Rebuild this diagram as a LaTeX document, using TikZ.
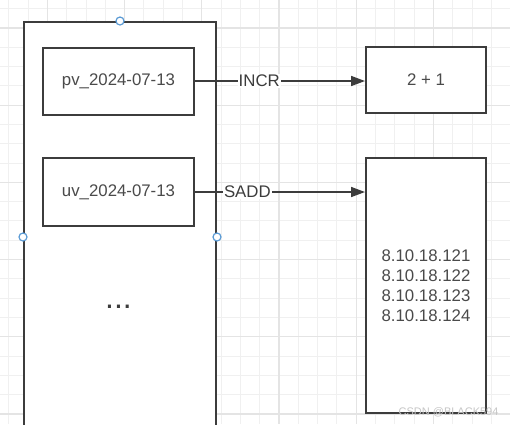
\documentclass[tikz,border=0pt]{standalone}
\usepackage{fontspec}
\setmainfont{Liberation Sans}
\usetikzlibrary{arrows.meta}
\definecolor{stroke}{HTML}{3C3C3C}
\definecolor{txt}{HTML}{4A4A4A}
\definecolor{gridminor}{HTML}{F0F0F0}
\definecolor{gridmajor}{HTML}{E4E4E4}
\definecolor{handle}{HTML}{5B9BD5}
\begin{document}
\begin{tikzpicture}[x=1pt,y=-1pt,
  box/.style={draw=stroke,line width=2pt,fill=white,rectangle,inner sep=0pt,text=txt,
    font=\fontsize{16.8}{20}\selectfont},
  conn/.style={draw=stroke,line width=1.6pt,-{Triangle[length=14pt,width=10pt]}},
  lbl/.style={fill=white,inner sep=1pt,text=stroke,font=\fontsize{16.8}{20}\selectfont},
  hdl/.style={circle,draw=handle,fill=white,line width=1.2pt,minimum size=8pt,inner sep=0pt}]
\useasboundingbox (0,0) rectangle (510,424);
\fill[white] (0,0) rectangle (510,424);
% grid
\foreach \i in {0,...,26}{
  \draw[gridminor,line width=1pt] ({8.8+19.3*\i},0) -- ({8.8+19.3*\i},424);
  \draw[gridminor,line width=1pt] (0,{8.6+19.3*\i}) -- (510,{8.6+19.3*\i});
}
\foreach \i in {0,...,6}{
  \draw[gridmajor,line width=1.2pt] ({47.4+77.2*\i},0) -- ({47.4+77.2*\i},424);
  \draw[gridmajor,line width=1.2pt] (0,{27.9+77.2*\i}) -- (510,{27.9+77.2*\i});
}
% outer container
\node[box,minimum width=192pt,minimum height=430pt] (outer) at (120,237) {};
\node[text=stroke,font=\fontsize{32}{32}\selectfont,anchor=base,inner sep=0pt] (dots) at (118.5,308) {...};
% key boxes
\node[box,minimum width=151pt,minimum height=67pt] (pv) at (118.5,81) {pv\_2024-07-13};
\node[box,minimum width=151pt,minimum height=68pt] (uv) at (118.5,192) {uv\_2024-07-13};
% value boxes
\node[box,minimum width=120pt,minimum height=66pt] (r1) at (426,80) {2 + 1};
\node[box,minimum width=120pt,minimum height=255pt,align=center] (r2) at (426,285.5)
  {8.10.18.121\\8.10.18.122\\8.10.18.123\\8.10.18.124};
% connectors
\draw[conn] (pv.east) -- node[lbl,pos=0.378] (incr) {INCR} (r1.west |- pv.east);
\draw[conn] (uv.east) -- node[lbl,pos=0.308] (sadd) {SADD} (r2.west |- uv.east);
% selection handles
\node[hdl] (h1) at (outer.north) {};
\node[hdl] (h2) at (outer.west) {};
\node[hdl] (h3) at (outer.east) {};
% watermark
\node[text=gray!45,font=\fontsize{11}{11}\selectfont,anchor=east] (wm) at (502,412) {CSDN @BLACK594};
\end{tikzpicture}
\end{document}
